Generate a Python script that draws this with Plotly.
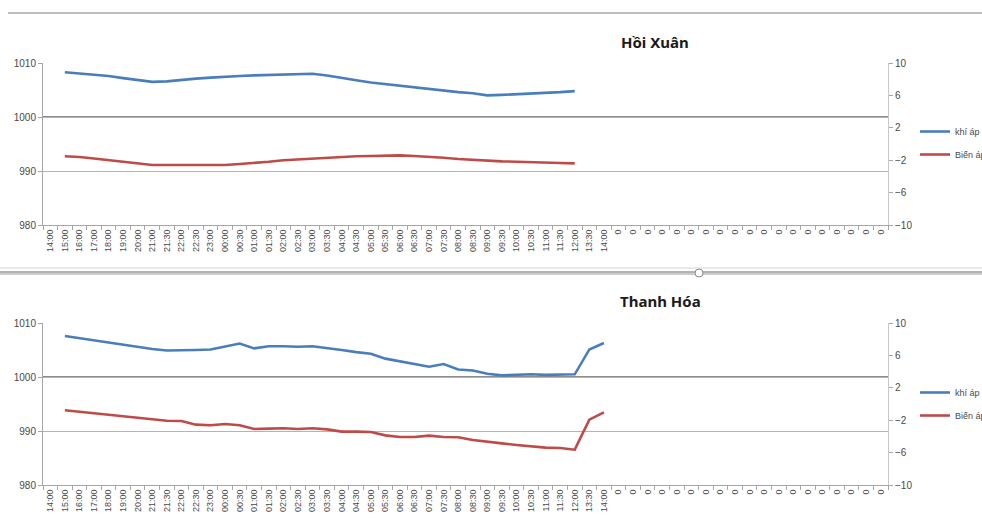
import plotly.graph_objects as go
from plotly.subplots import make_subplots

# ---- data ----
times = ["14:00", "15:00", "16:00", "17:00", "18:00", "19:00", "20:00", "21:00", "21:30",
         "22:00", "22:30", "23:00", "00:00", "00:30", "01:00", "01:30", "02:00", "02:30",
         "03:00", "03:30", "04:00", "04:30", "05:00", "05:30", "06:00", "06:30", "07:00",
         "07:30", "08:00", "08:30", "09:00", "09:30", "10:00", "10:30", "11:00", "11:30",
         "12:00", "13:30", "14:00"]
tick_labels = times + ["0"] * 19

hx_pressure = [None, 1008.3, 1008.1, 1007.9, 1007.6, 1007.2, 1006.9, 1006.5, 1006.6,
               1006.9, 1007.1, 1007.3, 1007.5, 1007.6, 1007.7, 1007.8, 1007.8, 1007.9,
               1008.0, 1007.7, 1007.2, 1006.8, 1006.4, 1006.1, 1005.7, 1005.5, 1005.2,
               1004.9, 1004.6, 1004.4, 1004.0, 1004.1, 1004.2, 1004.3, 1004.4, 1004.6,
               1004.8]
hx_change = [None, -1.52, -1.6, -1.8, -2.0, -2.26, -2.47, -2.6, -2.6,
             -2.6, -2.6, -2.6, -2.6, -2.47, -2.35, -2.19, -2.0, -1.9,
             -1.73, -1.65, -1.57, -1.52, -1.48, -1.44, -1.4, -1.48, -1.57,
             -1.69, -1.86, -1.98, -2.06, -2.14, -2.19, -2.27, -2.31, -2.35,
             -2.39]

th_pressure = [None, 1007.6, 1007.2, 1006.8, 1006.4, 1005.9, 1005.6, 1005.2, 1004.9,
               1004.9, 1005.0, 1005.1, 1005.6, 1006.2, 1005.3, 1005.7, 1005.7, 1005.6,
               1005.7, 1005.4, 1005.0, 1004.6, 1004.3, 1003.4, 1002.9, 1002.5, 1001.9,
               1002.4, 1001.4, 1001.2, 1000.6, 1000.3, 1000.4, 1000.5, 1000.4, 1000.5,
               1000.5, 1005.1, 1006.3]
th_change = [None, -0.78, -0.95, -1.15, -1.32, -1.52, -1.69, -1.89, -2.06,
             -2.10, -2.55, -2.63, -2.47, -2.63, -3.09, -3.04, -3.0, -3.09,
             -3.0, -3.13, -3.41, -3.41, -3.46, -3.87, -4.07, -4.07, -3.91,
             -4.07, -4.11, -4.44, -4.69, -4.86, -5.06, -5.23, -5.39, -5.43,
             -5.64, -1.93, -1.03]

titles = ["Hồi Xuân", "Thanh Hóa"]
series_names = ["khí áp", "Biến áp"]

BLUE = "#4a7ebb"
RED = "#be4b48"
GRID = "#b4b4b4"
AX = "#a6a6a6"
TXT = "#4a4a4a"
FONT = "Liberation Sans"

W, H = 982, 523
OFF = 0  # body margin removed in the page (see post_script)

def px_x(p):
    return (p - OFF) / W

def px_y(p):
    return 1 - (p - OFF) / H

idx = list(range(len(tick_labels)))

fig = make_subplots(rows=2, cols=1, specs=[[{"secondary_y": True}], [{"secondary_y": True}]])

datasets = [(hx_pressure, hx_change), (th_pressure, th_change)]
legend_ids = ["legend", "legend2"]
for r, (pres, chg) in enumerate(datasets, start=1):
    fig.add_trace(go.Scatter(x=idx[:len(pres)], y=pres, mode="lines", name=series_names[0],
                             line=dict(color=BLUE, width=2.6), legend=legend_ids[r - 1],
                             legendgroup=f"a{r}", connectgaps=False),
                  row=r, col=1, secondary_y=False)
    fig.add_trace(go.Scatter(x=idx[:len(chg)], y=chg, mode="lines", name=series_names[1],
                             line=dict(color=RED, width=2.6), legend=legend_ids[r - 1],
                             legendgroup=f"b{r}", connectgaps=False),
                  row=r, col=1, secondary_y=True)

xdom = [px_x(43), px_x(888)]
ydoms = [[px_y(225), px_y(63)], [px_y(485), px_y(323)]]

xcommon = dict(
    range=[-0.5, len(tick_labels) - 0.5], tickmode="array", tickvals=idx, ticktext=tick_labels,
    tickangle=-90, tickfont=dict(size=9, color=TXT, family=FONT), ticks="",
    showgrid=False, zeroline=False, showline=True, linecolor=AX, linewidth=1,
    minor=dict(tickmode="array", tickvals=[i - 0.5 for i in idx] + [len(idx) - 0.5],
               ticks="outside", ticklen=4, tickcolor=AX, showgrid=False),
    domain=xdom, fixedrange=True,
)
yleft = dict(range=[980, 1010], tickmode="array", tickvals=[980, 990, 1000, 1010],
             tickfont=dict(size=10, color=TXT, family=FONT), showgrid=True, gridcolor=GRID,
             gridwidth=1, zeroline=False, showline=True, linecolor=AX, ticks="outside",
             ticklen=4, tickcolor=AX, mirror=False, fixedrange=True)
yright = dict(range=[-10, 10], tickmode="array", tickvals=[-10, -6, -2, 2, 6, 10],
              tickfont=dict(size=10, color=TXT, family=FONT), showgrid=False, zeroline=False,
              showline=True, linecolor="#c8c8c8", ticks="outside", ticklen=4, tickcolor=AX,
              fixedrange=True)

fig.update_layout(
    xaxis=dict(xcommon, anchor="y"),
    xaxis2=dict(xcommon, anchor="y3"),
    yaxis=dict(yleft, domain=ydoms[0]),
    yaxis2=dict(yright, domain=ydoms[0]),
    yaxis3=dict(yleft, domain=ydoms[1]),
    yaxis4=dict(yright, domain=ydoms[1]),
)

leg_common = dict(xanchor="left", yanchor="top", font=dict(size=9, color=TXT, family=FONT),
                  bgcolor="rgba(0,0,0,0)", tracegroupgap=4, itemwidth=30, traceorder="grouped")
fig.update_layout(
    legend=dict(leg_common, x=px_x(915), y=px_y(117)),
    legend2=dict(leg_common, x=px_x(915), y=px_y(378)),
)

# titles
for t, (cx, cy) in zip(titles, [(655, 42), (660, 301)]):
    fig.add_annotation(text="<b>" + t + "</b>", xref="paper", yref="paper",
                       x=px_x(cx), y=px_y(cy), xanchor="center", yanchor="middle",
                       showarrow=False, font=dict(size=15, color="#1a1a1a", family="Noto Sans"))

shapes = []
# darker 1000 gridline in each chart
for xr, yr in [("x domain", "y"), ("x2 domain", "y3")]:
    shapes.append(dict(type="line", xref=xr, yref=yr, x0=0, x1=1, y0=1000, y1=1000,
                       line=dict(color="#8c8c8c", width=2), layer="below"))
# chart-frame separators from the screenshot
shapes.append(dict(type="line", xref="paper", yref="paper", x0=px_x(8), x1=1,
                   y0=px_y(13), y1=px_y(13), line=dict(color="#a8a8a8", width=1.5)))
shapes.append(dict(type="line", xref="paper", yref="paper", x0=0, x1=1,
                   y0=px_y(268), y1=px_y(268), line=dict(color="#e2e2e2", width=1.5)))
shapes.append(dict(type="line", xref="paper", yref="paper", x0=0, x1=1,
                   y0=px_y(272), y1=px_y(272), line=dict(color="#9a9a9a", width=1.5)))
shapes.append(dict(type="line", xref="paper", yref="paper", x0=0, x1=1,
                   y0=px_y(274), y1=px_y(274), line=dict(color="#9a9a9a", width=1.2)))
shapes.append(dict(type="circle", xref="paper", yref="paper",
                   x0=px_x(695), x1=px_x(703), y0=px_y(277), y1=px_y(269),
                   line=dict(color="#8a8a8a", width=1), fillcolor="white"))
fig.update_layout(shapes=shapes)

fig.update_layout(
    width=W, height=H, autosize=False,
    margin=dict(l=0, r=0, t=0, b=0, autoexpand=False),
    paper_bgcolor="white", plot_bgcolor="white",
    font=dict(family=FONT, color=TXT),
    showlegend=True,
    hovermode=False,
)

fig.write_html("out.html",
               config={"displayModeBar": False, "staticPlot": False},
               post_script="document.body.style.margin='0';document.body.style.overflow='hidden';")
